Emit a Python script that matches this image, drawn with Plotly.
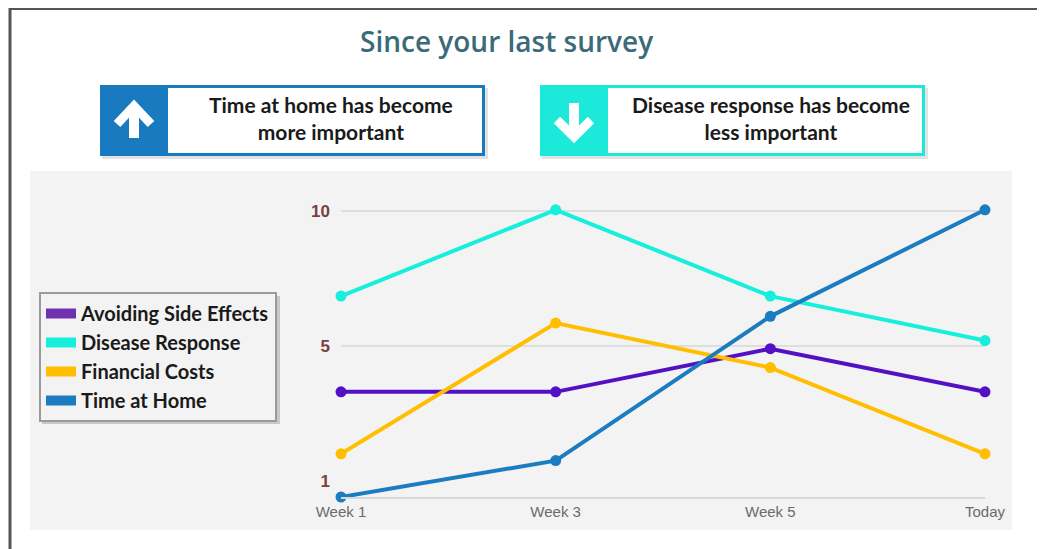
import plotly.graph_objects as go

# ---- data ----
weeks = ["Week 1", "Week 3", "Week 5", "Today"]
series_names = ["Avoiding Side Effects", "Disease Response", "Financial Costs", "Time at Home"]
avoiding_side_effects = [3.3, 3.3, 4.9, 3.3]
disease_response = [6.85, 10.05, 6.85, 5.2]
financial_costs = [1.0, 5.85, 4.2, 1.0]
time_at_home = [-0.6, 0.75, 6.1, 10.05]
tick_vals = [10, 5, 0]
tick_text = ["10", "5", "1"]
title_text = "Since your last survey"
box1_text = "Time at home has become<br>more important"
box2_text = "Disease response has become<br>less important"

line_colors = ["#5410c4", "#16efdc", "#ffbf00", "#1b7cc0"]
legend_colors = ["#7030b0", "#16efdc", "#ffbf00", "#1b7cc0"]
series_values = [avoiding_side_effects, disease_response, financial_costs, time_at_home]

W, H = 1045, 549
OFF = 8  # page body margin


def px(x):
    return (x - OFF) / W


def py(y):
    return 1 - (y - OFF) / H


fig = go.Figure()
for name, vals, col in zip(series_names, series_values, line_colors):
    fig.add_trace(go.Scatter(
        x=weeks, y=vals, mode="lines+markers", name=name, legendgroup=name,
        line=dict(color=col, width=4), marker=dict(color=col, size=11),
        showlegend=False, cliponaxis=False, hoverinfo="skip"))
for name, col in zip(series_names, legend_colors):
    fig.add_trace(go.Scatter(
        x=[None], y=[None], mode="lines", name=name, legendgroup=name,
        line=dict(color=col, width=16), showlegend=True))

shapes = []
# outer frame
shapes.append(dict(type="line", xref="paper", yref="paper", x0=px(10), x1=px(10), y0=py(8), y1=py(560),
                   line=dict(color="#555555", width=3)))
shapes.append(dict(type="line", xref="paper", yref="paper", x0=px(10), x1=px(1060), y0=py(9), y1=py(9),
                   line=dict(color="#555555", width=2)))
# gray panel
shapes.append(dict(type="rect", xref="paper", yref="paper", x0=px(30), x1=px(1012), y0=py(171), y1=py(530),
                   fillcolor="#f3f3f3", line=dict(width=0), layer="below"))
# legend shadow
shapes.append(dict(type="rect", xref="paper", yref="paper", x0=px(42), x1=px(280), y0=py(296), y1=py(424),
                   fillcolor="#c8c8c8", line=dict(width=0), layer="below"))

# header boxes
for x0, col in [(100, "#1a7abf"), (540, "#1de9da")]:
    shapes.append(dict(type="rect", xref="paper", yref="paper", x0=px(x0 + 2), x1=px(x0 + 388), y0=py(88), y1=py(159),
                       fillcolor="#e3e3e3", line=dict(width=0)))
    shapes.append(dict(type="rect", xref="paper", yref="paper", x0=px(x0), x1=px(x0 + 385), y0=py(85), y1=py(156),
                       fillcolor=col, line=dict(width=0)))
    shapes.append(dict(type="rect", xref="paper", yref="paper", x0=px(x0 + 68), x1=px(x0 + 382), y0=py(88), y1=py(153),
                       fillcolor="white", line=dict(width=0)))

# up arrow
ax = 134
shapes.append(dict(type="path", xref="paper", yref="paper",
                   path=f"M{px(ax)},{py(138)} L{px(ax)},{py(108)}",
                   line=dict(color="white", width=10)))
shapes.append(dict(type="path", xref="paper", yref="paper",
                   path=f"M{px(ax-17)},{py(124)} L{px(ax)},{py(106)} L{px(ax+17)},{py(124)}",
                   line=dict(color="white", width=9)))
# down arrow
bx = 574
shapes.append(dict(type="path", xref="paper", yref="paper",
                   path=f"M{px(bx)},{py(103)} L{px(bx)},{py(134)}",
                   line=dict(color="white", width=10)))
shapes.append(dict(type="path", xref="paper", yref="paper",
                   path=f"M{px(bx-17)},{py(120)} L{px(bx)},{py(137)} L{px(bx+17)},{py(120)}",
                   line=dict(color="white", width=9)))

annotations = [
    dict(text=title_text, xref="paper", yref="paper", x=px(506), y=py(41),
         showarrow=False, font=dict(family="Open Sans", size=28, color="#3b6a79", weight=600),
         xanchor="center", yanchor="middle"),
    dict(text=f"<b>{box1_text}</b>", xref="paper", yref="paper", x=px(331), y=py(118),
         showarrow=False, font=dict(family="Lato", size=21, color="#1a1a1a"), xanchor="center", yanchor="middle"),
    dict(text=f"<b>{box2_text}</b>", xref="paper", yref="paper", x=px(771), y=py(118),
         showarrow=False, font=dict(family="Lato", size=21, color="#1a1a1a"), xanchor="center", yanchor="middle"),
]

fig.update_layout(
    width=W, height=H,
    margin=dict(l=0, r=0, t=0, b=0, autoexpand=False),
    paper_bgcolor="white", plot_bgcolor="rgba(0,0,0,0)",
    shapes=shapes, annotations=annotations,
    showlegend=True,
    legend=dict(x=px(39), y=py(292), xanchor="left", yanchor="top",
                bgcolor="#f3f3f3", bordercolor="#9a9a9a", borderwidth=2,
                font=dict(family="Lato", size=20, color="#1a1a1a", weight="bold"),
                itemwidth=30, traceorder="grouped", tracegroupgap=0),
    xaxis=dict(domain=[px(341), px(985)], range=[0, 3], showgrid=False, zeroline=False, automargin=False,
               showline=True, linecolor="#d9d9d9", linewidth=2, ticks="",
               tickfont=dict(family="Arial", size=15, color="#6b6b6b")),
    yaxis=dict(domain=[py(497), py(195)], range=[-0.6, 10.6], tickvals=tick_vals, ticktext=tick_text,
               showgrid=False, zeroline=False, showline=False, ticks="", ticklabelstandoff=10, automargin=False,
               tickfont=dict(family="Arial", size=17, color="#7b3f3f", weight="bold"),
               minor=dict(tickvals=[10, 5], showgrid=True, gridcolor="#dedede", gridwidth=2, ticks="")),
)

fig.write_html("out.html")
